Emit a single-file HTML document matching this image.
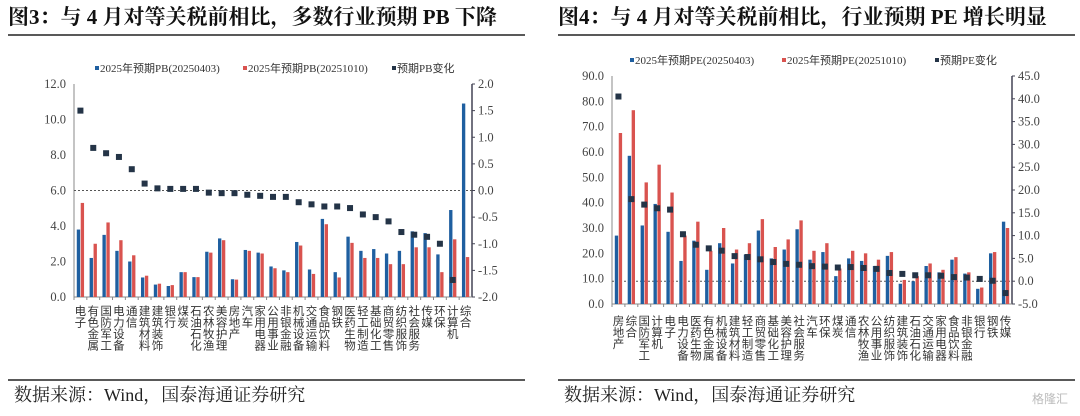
<!DOCTYPE html>
<html><head><meta charset="utf-8">
<style>
body{margin:0;background:#fff;}
svg{display:block;font-family:"Liberation Serif","Noto Serif CJK SC","Noto Sans CJK SC",serif;}
.t{font-family:"Liberation Serif","Noto Serif CJK SC",serif;font-weight:bold;font-size:21px;fill:#111;}
.tick{font-size:12.5px;fill:#444;}
.lab{font-size:11.5px;fill:#333;font-family:"Noto Sans CJK SC",sans-serif;}
.lg{font-size:11px;fill:#333;font-family:"Liberation Serif","Noto Sans CJK SC",serif;}
.src{font-size:18px;fill:#222;font-family:"Liberation Serif","Noto Serif CJK SC",serif;}
</style></head><body>
<svg id="s" width="1080" height="416">
<text class="t" x="8" y="24">图3：与 4 月对等关税前相比，多数行业预期 PB 下降</text>
<text class="t" x="558" y="24">图4：与 4 月对等关税前相比，行业预期 PE 增长明显</text>
<line x1="8" y1="35" x2="525" y2="35" stroke="#222" stroke-width="1.5"/>
<line x1="558" y1="35" x2="1075" y2="35" stroke="#222" stroke-width="1.5"/>
<line x1="8" y1="380" x2="525" y2="380" stroke="#222" stroke-width="1.5"/>
<line x1="558" y1="380" x2="1075" y2="380" stroke="#222" stroke-width="1.5"/>
<text class="src" x="14" y="401">数据来源：Wind，国泰海通证券研究</text>
<text class="src" x="564" y="401">数据来源：Wind，国泰海通证券研究</text>
<text x="1032" y="403" font-size="12" fill="#bbb" font-family="Noto Sans CJK SC,sans-serif">格隆汇</text>
</svg>
<script>
const pbCats=["电子","有色金属","国防军工","电力设备","通信","建筑材料","建筑装饰","银行","煤炭","石油石化","农林牧渔","美容护理","房地产","汽车","家用电器","公用事业","非银金融","机械设备","交通运输","食品饮料","钢铁","医药生物","轻工制造","基础化工","商贸零售","纺织服饰","社会服务","传媒","环保","计算机","综合"];
const pbApr=[3.8,2.2,3.5,2.6,2.0,1.1,0.7,0.62,1.4,1.12,2.55,3.3,1.0,2.65,2.5,1.72,1.5,3.1,1.55,4.4,1.4,3.4,2.6,2.7,2.45,2.6,3.7,3.6,2.4,4.9,10.9];
const pbOct=[5.3,3.0,4.2,3.2,2.35,1.2,0.75,0.67,1.4,1.12,2.5,3.2,0.98,2.6,2.45,1.62,1.4,2.9,1.3,4.1,1.1,3.05,2.2,2.2,1.85,1.85,2.8,2.8,1.4,3.25,2.25];
const pbChg=[1.5,0.8,0.7,0.63,0.4,0.13,0.04,0.03,0.03,0.03,-0.04,-0.05,-0.05,-0.08,-0.1,-0.12,-0.12,-0.22,-0.26,-0.3,-0.3,-0.33,-0.45,-0.5,-0.58,-0.78,-0.83,-0.87,-1.0,-1.68,-8.65];
const pbLeftTicks=[0,2,4,6,8,10,12];
const pbRightTicks=[-2,-1.5,-1,-0.5,0,0.5,1,1.5,2];

const peCats=["房地产","综合","国防军工","计算机","电子","电力设备","医药生物","有色金属","机械设备","建筑材料","轻工制造","商贸零售","基础化工","美容护理","社会服务","汽车","环保","煤炭","通信","农林牧渔","公用事业","纺织服饰","建筑装饰","石油石化","交通运输","家用电器","食品饮料","非银金融","银行","钢铁","传媒"];
const peApr=[27,58.5,31,39.5,28.5,17,25,13.5,24,16,19.5,29,18,21.5,29.5,17.5,20.5,11,18,17,15,19,8,9,15,12.5,17.5,12,6,20,32.5];
const peOct=[67.5,76.5,48,55,44,27,32.5,21,30,21.5,24,33.5,22.5,25.5,33,21,24,14,21,20,17.5,20.5,9.5,11,16,13.5,18.5,12.5,6.5,20.5,30];
const peChg=[40.5,18,16.8,16,15.7,10.3,8,7.2,6.7,5.5,5.3,4.8,4.2,3.8,3.6,3.3,3.2,3,3.1,2.9,2.7,1.8,1.6,1.3,1.3,1.2,0.9,0.8,0.5,0.1,-2.6];
const peLeftTicks=[0,10,20,30,40,50,60,70,80,90];
const peRightTicks=[-5,0,5,10,15,20,25,30,35,40,45];

const NS="http://www.w3.org/2000/svg";
const svg=document.getElementById("s");
function mk(tag,attrs,parent){const e=document.createElementNS(NS,tag);for(const k in attrs)e.setAttribute(k,attrs[k]);(parent||svg).appendChild(e);return e;}

function chart(c){
  const g=mk("g",{});
  
  
  const yL=v=>c.y0-(v-c.lmin)/(c.lmax-c.lmin)*(c.y0-c.y1);
  const yR=v=>c.y0-(v-c.rmin)/(c.rmax-c.rmin)*(c.y0-c.y1);
  const n=c.cats.length, step=(c.xr-c.xl)/n;
  const xc=i=>c.xl+step*(i+0.5);
  const la=mk("line",{x1:c.xl,y1:c.y1,x2:c.xl,y2:c.y0,stroke:"#888"},g);
  
  
  const ra=mk("line",{x1:c.xr,y1:c.y1,x2:c.xr,y2:c.y0,stroke:"#445",'stroke-width':1.5},g);
  
  
  const xa=mk("line",{x1:c.xl,y1:c.y0,x2:c.xr,y2:c.y0,stroke:"#888"},g);
  
  
  c.lt.forEach(v=>{const t=mk("text",{x:c.xl-8,y:yL(v)+4,'text-anchor':'end',class:'tick'},g);t.textContent=v.toFixed(1);
    
    });
  c.rt.forEach(v=>{const t=mk("text",{x:c.xr+6,y:yR(v)+4,class:'tick'},g);t.textContent=v.toFixed(1);
    
    
    mk("line",{x1:c.xr,y1:yR(v),x2:c.xr+3,y2:yR(v),stroke:"#445"},g);});
  const dl=mk("line",{x1:c.xl,y1:yR(0),x2:c.xr,y2:yR(0),stroke:"#555",'stroke-dasharray':'2,2'},g);
  
  
  const bw=step*0.26;
  for(let i=0;i<n;i++){
    mk("line",{x1:c.xl+step*i,y1:c.y0,x2:c.xl+step*i,y2:c.y0+3,stroke:"#888"},g);
    const b1=mk("rect",{x:xc(i)-bw-0.3,y:yL(c.a[i]),width:bw,height:c.y0-yL(c.a[i]),fill:"#1f5fa0"},g);
    
    
    const b2=mk("rect",{x:xc(i)+0.3,y:yL(c.b[i]),width:bw,height:c.y0-yL(c.b[i]),fill:"#d9534f"},g);
    
    
    const dv=c.d[i];
    if(dv>=c.rmin&&dv<=c.rmax){
      const p=mk("rect",{x:xc(i)-3,y:yR(dv)-3,width:6,height:6,fill:"#243447"},g);
      
      
    }
    const chars=[...c.cats[i]];
    chars.forEach((ch,k)=>{const t=mk("text",{x:xc(i),y:c.labY+k*11.5,'text-anchor':'middle',class:'lab'},g);t.textContent=ch;
      
      });
  }
  const items=[[c.lg[0],"#1f5fa0"],[c.lg[1],"#d9534f"],[c.lg[2],"#243447"]];
  items.forEach((it,k)=>{
    const lx=c.legX[k];
    mk("rect",{x:lx,y:c.legY-6,width:4,height:4,fill:it[1]},g);
    const t=mk("text",{x:lx+5,y:c.legY,class:'lg'},g);t.textContent=it[0];
    
    
  });
}
chart({id:'pb',cats:pbCats,a:pbApr,b:pbOct,d:pbChg,lt:pbLeftTicks,rt:pbRightTicks,lmin:0,lmax:12,rmin:-2,rmax:2,
  xl:74,xr:472,y0:297,y1:84,labY:315,legX:[95,243,392],legY:72,lg:["2025年预期PB(20250403)","2025年预期PB(20251010)","预期PB变化"]});
chart({id:'pe',cats:peCats,a:peApr,b:peOct,d:peChg,lt:peLeftTicks,rt:peRightTicks,lmin:0,lmax:90,rmin:-5,rmax:45,
  xl:612,xr:1012,y0:304,y1:76,labY:325,legX:[630,782,935],legY:64,lg:["2025年预期PE(20250403)","2025年预期PE(20251010)","预期PE变化"]});
</script>
</body></html>
